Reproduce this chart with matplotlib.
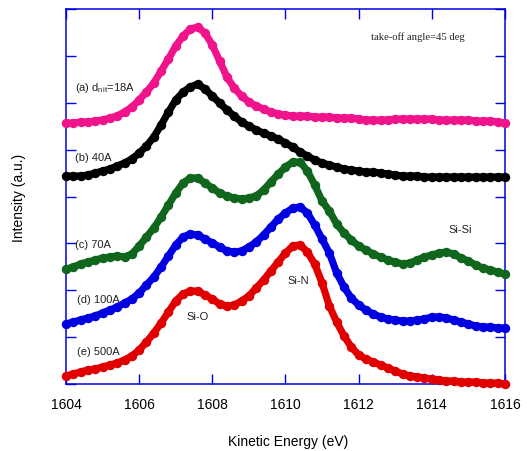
import numpy as np
import matplotlib
matplotlib.use("Agg")
import matplotlib.pyplot as plt

plt.rcParams['font.family'] = ['Liberation Sans', 'DejaVu Sans']
plt.rcParams['mathtext.fontset'] = 'custom'
plt.rcParams['mathtext.rm'] = 'Liberation Sans'

# kinetic energy grid (eV), 0.2 eV steps
energy = np.round(np.arange(1604.0, 1616.01, 0.2), 1)

# intensities (a.u.), curves already offset as in the figure
int_18A = [261, 261, 262, 262, 263, 264, 266, 268, 272, 277,
           284, 292, 301, 313, 325, 338, 348, 355, 357, 351,
           339, 323, 307, 296, 288, 282, 278, 275, 272, 270,
           269, 268, 268, 268, 267, 267, 267, 266, 266, 266,
           265, 264, 264, 264, 264, 265, 265, 265, 265, 265,
           265, 264, 264, 264, 264, 264, 263, 263, 263, 262, 261]
int_40A = [208, 208, 208, 209, 211, 213, 215, 218, 221, 225,
           231, 238, 247, 259, 272, 284, 292, 297, 300, 295,
           288, 281, 274, 268, 262, 258, 254, 251, 248, 245,
           241, 237, 232, 228, 224, 221, 219, 217, 215, 214,
           213, 212, 212, 211, 210, 209, 208, 208, 208, 207,
           207, 207, 207, 207, 207, 207, 207, 207, 207, 207, 207]
int_70A = [115, 117, 120, 122, 124, 126, 127, 128, 127, 130,
           138, 147, 156, 167, 179, 191, 201, 206, 206, 201,
           196, 191, 188, 186, 185, 186, 188, 194, 202, 210,
           217, 222, 222, 213, 199, 183, 173, 160, 151, 144,
           138, 134, 130, 127, 124, 122, 120, 121, 124, 127,
           129, 131, 132, 130, 126, 123, 119, 116, 114, 112, 110]
int_100A = [60, 62, 64, 66, 68, 71, 74, 77, 81, 85,
            91, 99, 107, 117, 128, 139, 147, 150, 149, 145,
            141, 137, 133, 132, 133, 137, 142, 149, 157, 165,
            171, 176, 177, 171, 159, 145, 131, 111, 97, 86,
            79, 74, 70, 67, 65, 64, 63, 63, 64, 65,
            67, 67, 66, 64, 62, 60, 58, 57, 57, 56, 56]
int_500A = [8, 10, 12, 14, 15, 17, 19, 21, 24, 28,
            34, 42, 51, 61, 72, 83, 90, 93, 93, 89,
            85, 80, 78, 79, 83, 88, 96, 104, 113, 122,
            131, 138, 139, 132, 120, 101, 78, 62, 48, 37,
            29, 25, 22, 19, 16, 13, 10, 8, 7, 6,
            5, 4, 3, 3, 2, 2, 2, 1, 1, 1, 0]

series = [int_18A, int_40A, int_70A, int_100A, int_500A]
colors = ['#f0148c', '#000000', '#10661c', '#0000e0', '#e00000']
labels = [r'(a) d$_{\rm nit}$=18A', '(b) 40A', '(c) 70A', '(d) 100A', '(e) 500A']
label_pos = [(1604.25, 297), (1604.25, 227), (1604.25, 140), (1604.3, 85), (1604.3, 33)]

peaks = ['Si-O', 'Si-N', 'Si-Si']
peak_pos = [(1607.6, 68), (1610.35, 104), (1614.77, 155)]


def main():
    fig = plt.figure(figsize=(5.27, 4.52), dpi=100)
    ax = fig.add_axes([0.1252, 0.1482, 0.833, 0.8296])

    # dense dots: thick line underneath so the points merge into a band
    for vals, c in zip(series, colors):
        ax.plot(energy, vals, linestyle='-', lw=5.2, solid_capstyle='round',
                marker='o', ms=6.8, markeredgewidth=0, color=c,
                clip_on=False, zorder=3)

    for txt, (x, y) in zip(labels, label_pos):
        ax.text(x, y, txt, fontsize=8, ha='left', va='center', color='#222222')
    for txt, (x, y) in zip(peaks, peak_pos):
        ax.text(x, y, txt, fontsize=8, ha='center', va='center', color='#222222')
    ax.text(1612.33, 348, 'take-off angle=45 deg', fontsize=7.7, ha='left',
            va='center', family='Liberation Serif', color='#222222')

    ax.set_xlim(1604, 1616)
    ax.set_ylim(0, 375)
    ax.set_xticks(np.arange(1604, 1617, 2))
    ax.set_yticks(np.arange(0, 376, 375 / 8))
    ax.set_yticklabels([])

    spine_col = '#0000e6'
    for s in ax.spines.values():
        s.set_color(spine_col)
        s.set_linewidth(1.1)
    ax.tick_params(direction='in', length=7, width=1, color=spine_col,
                   top=True, right=True, labelsize=10, pad=9)

    ax.set_xlabel('Kinetic Energy (eV)', fontsize=10)
    ax.set_ylabel('Intensity (a.u.)', fontsize=10)
    ax.xaxis.set_label_coords(0.506, -0.132)
    ax.yaxis.set_label_coords(-0.092, 0.5)

    fig.savefig('out.png', dpi=100)


if __name__ == "__main__":
    main()
